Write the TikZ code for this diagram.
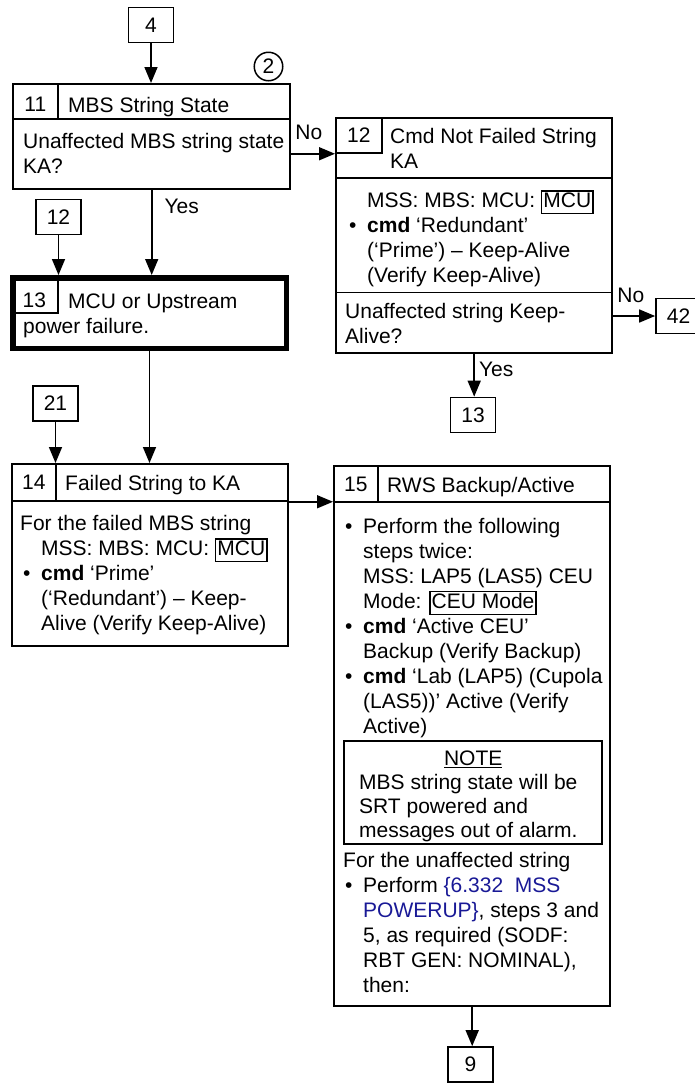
\documentclass[tikz,border=0pt]{standalone}
\usepackage{fontspec}
\setmainfont{Liberation Sans}
\usepackage{xcolor}
\usepackage{tikz}
\usetikzlibrary{positioning,arrows.meta,calc}
\definecolor{xreflink}{RGB}{25,25,150}
\newcommand{\fld}[1]{{\setlength{\fboxsep}{1pt}\setlength{\fboxrule}{1.4pt}\fbox{\vphantom{g}#1}}}
\newcommand{\bul}{\makebox[18pt][l]{\textbullet}}
\newcommand{\ind}{\hspace*{18pt}}

\begin{document}
\begin{tikzpicture}[x=1pt,y=1pt,>={Triangle[length=16pt,width=13pt]},
  font=\fontsize{21}{25}\selectfont,
  stepbox/.style={draw,line width=2.4pt,anchor=north west,inner sep=0pt},
  headrow/.style={draw,line width=1.5pt,anchor=north west,inner sep=0pt},
  numcell/.style={draw,line width=1.5pt,anchor=north west,inner sep=0pt,text height=15pt,text depth=0pt},
  txt/.style={anchor=north west,inner sep=0pt,align=left},
  refbox/.style={draw,line width=1.7pt,minimum width=45pt,minimum height=35pt,inner sep=0pt},
  lbl/.style={inner sep=0pt},
  flow/.style={->,line width=1.6pt}]
  \useasboundingbox (0,0) rectangle (695,-1085);
  \node[refbox] (r4) at (151,-25) {4};
  \node[circle,draw,line width=1.5pt,minimum size=28.5pt,inner sep=0pt] (c2) at (268.5,-66.5) {2};
  \node[stepbox,minimum width=277pt,minimum height=105pt] (st11) at (12,-83) {};
  \node[headrow,minimum width=277pt,minimum height=35.25pt] (hd11) at (st11.north west) {};
  \node[numcell,minimum width=45.25pt,minimum height=35.25pt,text height=21pt] (no11) at (st11.north west) {11};
  \node[txt] (tt11) at (68,-94.5) {\strut MBS String State};
  \node[txt] (bd11) at (23,-130.5) {\strut Unaffected MBS string state\\KA?};
  \draw[flow] (r4.south) -- (r4.south |- st11.north);
  \node[stepbox,minimum width=276pt,minimum height=235pt] (st12) at (335,-117) {};
  \node[headrow,minimum width=276pt,minimum height=60.25pt] (hd12) at (st12.north west) {};
  \node[numcell,minimum width=46.25pt,minimum height=35.25pt] (no12) at (st12.north west) {12};
  \node[txt] (tt12) at (390,-125.5) {\strut Cmd Not Failed String\\KA};
  \node[txt] (bd12) at (349,-189.5) {\strut\ind MSS: MBS: MCU: \fld{MCU}\\\bul\textbf{cmd} ‘Redundant’\\\ind(‘Prime’) – Keep-Alive\\\ind(Verify Keep-Alive)};
  \node[headrow,anchor=south west,minimum width=276pt,minimum height=61.25pt] (qu12) at (st12.south west) {};
  \node[txt] (qt12) at (345,-300.5) {\strut Unaffected string Keep-\\Alive?};
  \draw[flow] (st11.east |- no12.south) -- node[lbl,pos=0.4,above=13pt]{No} (st12.west |- no12.south);
  \node[refbox] (r42) at (678.5,-316) {42};
  \draw[flow] (qu12.east |- r42.west) -- node[lbl,pos=0.43,above=13pt]{No} (r42.west);
  \node[refbox] (r13) at (473,-415) {13};
  \draw[flow] (st12.south) -- node[lbl,pos=0.36,right=4pt]{Yes} (st12.south |- r13.north);
  \node[refbox] (r12) at (58.5,-217) {12};
  \node[stepbox,line width=5.5pt,minimum width=273.5pt,minimum height=70.5pt] (st13) at (10,-275) {};
  \node[numcell,minimum width=47.25pt,minimum height=37.25pt,text height=27pt] (no13) at (st13.north west) {13};
  \node[txt] (tt13) at (23,-290.5) {\strut\hspace*{45pt}MCU or Upstream\\power failure.};
  \draw[flow] (st11.south) -- node[lbl,pos=0.19,right=12pt]{Yes} (st11.south |- st13.north);
  \draw[flow] (r12.south) -- (r12.south |- st13.north);
  \node[refbox] (r21) at (55.5,-403.5) {21};
  \node[stepbox,minimum width=276pt,minimum height=182pt] (st14) at (11,-463) {};
  \node[headrow,minimum width=276pt,minimum height=37.25pt] (hd14) at (st14.north west) {};
  \node[numcell,minimum width=44.25pt,minimum height=37.25pt] (no14) at (st14.north west) {14};
  \node[txt] (tt14) at (65,-472.5) {\strut Failed String to KA};
  \node[txt] (bd14) at (20,-512.5) {\strut For the failed MBS string\\\hspace*{21pt}MSS: MBS: MCU: \fld{MCU}\\\hspace*{3pt}\bul\textbf{cmd} ‘Prime’\\\hspace*{21pt}(‘Redundant’) – Keep-\\\hspace*{21pt}Alive (Verify Keep-Alive)};
  \draw[flow] (st13.south) -- (st13.south |- st14.north);
  \draw[flow] (r21.south) -- (r21.south |- st14.north);
  \node[stepbox,minimum width=276pt,minimum height=540pt] (st15) at (333,-465) {};
  \node[headrow,minimum width=276pt,minimum height=36.25pt] (hd15) at (st15.north west) {};
  \node[numcell,minimum width=44.25pt,minimum height=36.25pt] (no15) at (st15.north west) {15};
  \node[txt] (tt15) at (387,-474.5) {\strut RWS Backup/Active};
  \node[txt] (bd15) at (345,-515.5) {\strut\bul Perform the following\\\ind steps twice:\\\ind MSS: LAP5 (LAS5) CEU\\\ind Mode: \fld{CEU Mode}\\\bul\textbf{cmd} ‘Active CEU’\\\ind Backup (Verify Backup)\\\bul\textbf{cmd} ‘Lab (LAP5) (Cupola\\\ind(LAS5))’ Active (Verify\\\ind Active)};
  \node[draw,line width=1.7pt,anchor=north west,inner sep=0pt,minimum width=258pt,minimum height=103pt] (nb15) at (343,-740) {};
  \node[txt,font=\fontsize{21}{24}\selectfont] (nt15) at (359,-748.2) {\strut\makebox[228pt]{\underline{NOTE}}\\MBS string state will be\\SRT powered and\\messages out of alarm.};
  \node[txt] (cb15) at (343,-849.5) {\strut For the unaffected string\\\hspace*{2pt}\bul Perform \textcolor{xreflink}{\{6.332\ \ MSS}\\\hspace*{20pt}\textcolor{xreflink}{POWERUP\}}, steps 3 and\\\hspace*{20pt}5, as required (SODF:\\\hspace*{20pt}RBT GEN: NOMINAL),\\\hspace*{20pt}then:};
  \draw[flow] (hd14.south east) -- (hd14.south east -| st15.west);
  \node[refbox] (r9) at (470.5,-1064.5) {9};
  \draw[flow] (st15.south) -- (st15.south |- r9.north);
\end{tikzpicture}
\end{document}
